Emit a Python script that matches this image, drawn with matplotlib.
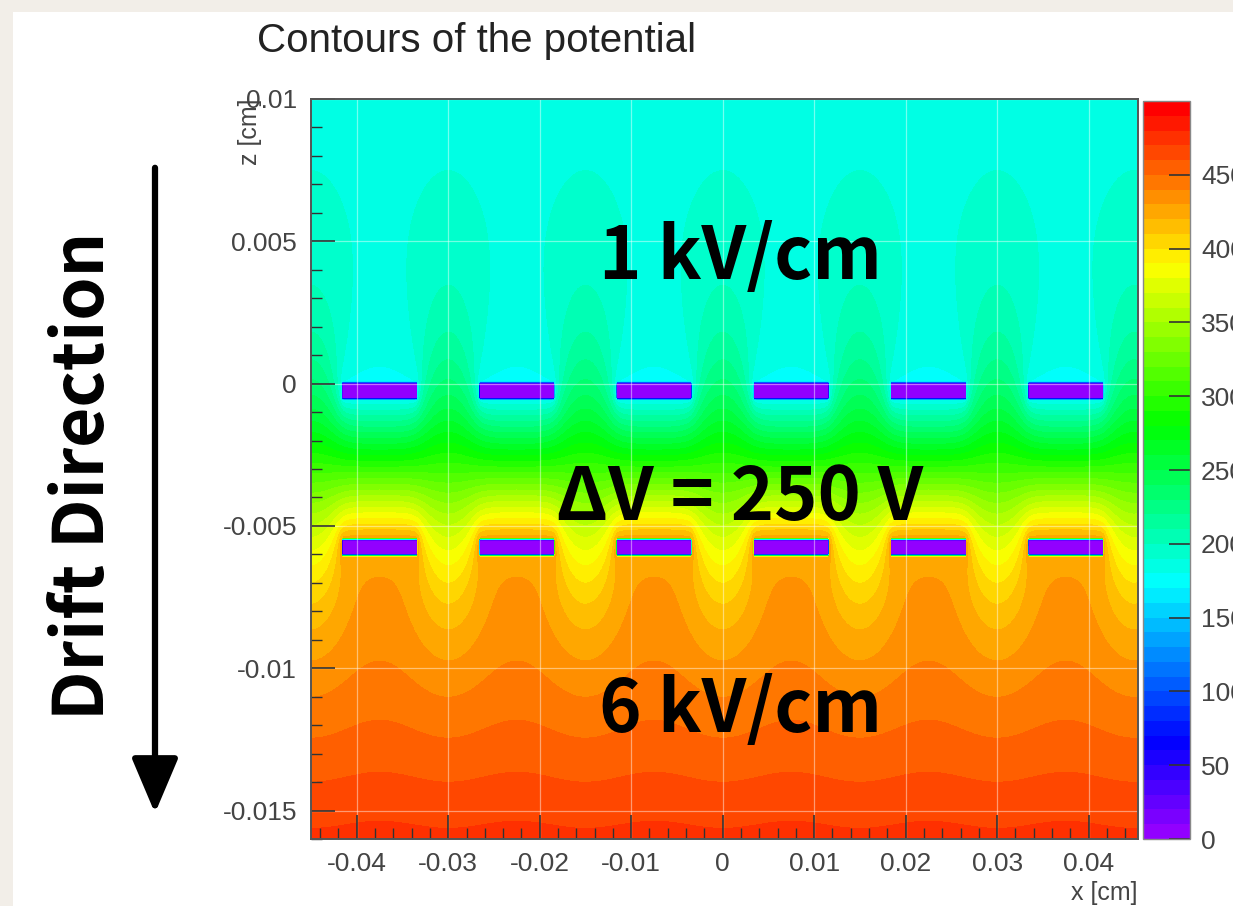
import colorsys
import numpy as np
import matplotlib
matplotlib.use('Agg')
import matplotlib.pyplot as plt
from matplotlib.colors import ListedColormap
from matplotlib.patches import Rectangle, FancyArrowPatch

plt.rcParams['font.family'] = ['Liberation Sans', 'DejaVu Sans']

# double mesh geometry [cm]
strip_centers = [-0.0375, -0.0225, -0.0075, 0.0075, 0.0225, 0.0375]
strip_width = 0.0083
mesh_pitch = 0.015
upper_mesh = (-0.00055, 0.0)      # z range of the upper strips
lower_mesh = (-0.0060, -0.0055)   # z range of the lower strips

# potentials [V] and fields [V/cm]
v_upper = 178.0
delta_v = 250.0
e_drift = 1000.0
e_transfer = 6000.0

x_range = (-0.045, 0.0454)
z_range = (-0.016, 0.010)
x_ticks = [-0.04, -0.03, -0.02, -0.01, 0, 0.01, 0.02, 0.03, 0.04]
z_ticks = [-0.015, -0.01, -0.005, 0, 0.005, 0.01]
cbar_ticks = [0, 50, 100, 150, 200, 250, 300, 350, 400, 450]

# ---- solve Laplace on one mesh period (periodic in x) ----
h = 0.0001
z = np.arange(z_range[0], z_range[1] + h / 2, h)
nper = int(round(mesh_pitch / h))
xp = x_range[0] + np.arange(nper) * h
Z, X = np.meshgrid(z, xp, indexing='ij')

in_strip = np.zeros_like(X, dtype=bool)
for c in strip_centers:
    in_strip |= np.abs(X - c) <= strip_width / 2
up_mask = in_strip & (Z >= upper_mesh[0] - 1e-9) & (Z <= upper_mesh[1] + 1e-9)
lo_mask = in_strip & (Z >= lower_mesh[0] - 1e-9) & (Z <= lower_mesh[1] + 1e-9)
fixed = up_mask | lo_mask
v_lower = v_upper + delta_v

# start from the ideal planar solution
gap = upper_mesh[0] - lower_mesh[1]
V = np.where(Z >= upper_mesh[0], v_upper - e_drift * Z.clip(0),
             v_upper + delta_v * (upper_mesh[0] - Z) / gap)
V = np.where(Z <= lower_mesh[1], v_lower + e_transfer * (lower_mesh[0] - Z).clip(0), V)
V[up_mask] = v_upper
V[lo_mask] = v_lower

parity = (np.arange(len(z))[:, None] + np.arange(nper)[None, :]) % 2
free = ~fixed
free[0, :] = False
free[-1, :] = False
red = free & (parity == 0)
black = free & (parity == 1)
omega = 1.96
for it in range(1500):
    for m in (red, black):
        nb = 0.25 * (np.roll(V, 1, 1) + np.roll(V, -1, 1) + np.roll(V, 1, 0) + np.roll(V, -1, 0))
        V[m] += omega * (nb[m] - V[m])
    V[-1] = V[-2] - e_drift * h
    V[0] = V[1] + e_transfer * h

V_show = V.copy()
V_show[fixed] = 0.0

# tile the period over the full x range
x = np.arange(x_range[0], x_range[1] + h / 2, h)
cols = np.arange(len(x)) % nper
pot = V_show[:, cols]

# ROOT style violet -> red palette
palette = [colorsys.hls_to_rgb((280 - (i + 1) * 280 / 50) / 360, 0.5, 1.0) for i in range(50)]
palette[-1] = (1.0, 0.0, 0.0)
cmap = ListedColormap(palette)
levels = np.linspace(0, 500, 51)

fig = plt.figure(figsize=(12.33, 9.06), dpi=100, facecolor='#f2eee8')
fig.add_artist(Rectangle((13 / 1233, 0), 1, 1 - 12 / 906, transform=fig.transFigure,
                         facecolor='white', edgecolor='none', zorder=0))

ax = fig.add_axes([0.25223, 0.07395, 0.67072, 0.81678])
cs = ax.contourf(x, z, pot, levels=levels, cmap=cmap, vmin=0, vmax=500)
ax.set_xlim(x_range)
ax.set_ylim(z_range)
ax.set_xticks(x_ticks)
ax.set_xticklabels(['-0.04', '-0.03', '-0.02', '-0.01', '0', '0.01', '0.02', '0.03', '0.04'])
ax.set_yticks(z_ticks)
ax.set_yticklabels(['-0.015', '-0.01', '-0.005', '0', '0.005', '0.01'])
ax.set_xticks(np.arange(-0.044, 0.0455, 0.002), minor=True)
ax.set_yticks(np.arange(-0.016, 0.0101, 0.001), minor=True)
ax.tick_params(which='both', direction='in', top=False, right=False, colors='#333333',
               labelsize=19, labelcolor='#444444')
ax.tick_params(which='major', length=17, width=1.2)
ax.tick_params(which='minor', length=8, width=1.0)
ax.tick_params(axis='x', pad=9)
ax.tick_params(axis='y', pad=10)
ax.grid(True, which='major', color='white', alpha=0.45, lw=0.9)
for s in ax.spines.values():
    s.set_color('#555555')
    s.set_linewidth(1.4)

ax.text(1.0, -0.073, 'x [cm]', transform=ax.transAxes, ha='right', va='center',
        fontsize=18, color='#444444')
ax.text(-0.0735, 1.0, 'z [cm]', transform=ax.transAxes, rotation=90, ha='center', va='top',
        fontsize=18, color='#444444')

big = ['Noto Sans CJK KR', 'DejaVu Sans']
ax.text(0.0019, 0.00367, '1 kV/cm', family=big, weight='bold', fontsize=52,
        ha='center', va='baseline', color='black')
ax.text(0.0019, -0.00479, '\u0394V = 250 V', family=big, weight='bold', fontsize=53,
        ha='center', va='baseline', color='black')
ax.text(0.0019, -0.01223, '6 kV/cm', family=big, weight='bold', fontsize=52,
        ha='center', va='baseline', color='black')

cax = fig.add_axes([0.92701, 0.07395, 0.03812, 0.81457])
cb = fig.colorbar(cs, cax=cax, ticks=cbar_ticks)
cb.outline.set_edgecolor('#888888')
cb.outline.set_linewidth(1.0)
cax.tick_params(direction='in', length=15, width=1.2, colors='#333333', labelsize=19,
                labelcolor='#444444', pad=8)

fig.text(257 / 1233, 1 - 52 / 906, 'Contours of the potential', fontsize=29,
         ha='left', va='baseline', color='#222222')

fig.text(84 / 1233, 1 - 476 / 906, 'Drift Direction', family=big, weight='bold',
         fontsize=50, rotation=90, ha='center', va='center', color='black')
fig.add_artist(FancyArrowPatch((155 / 1233, 1 - 165 / 906), (155 / 1233, 1 - 816 / 906),
                               transform=fig.transFigure,
                               arrowstyle='-|>,head_length=1.3,head_width=0.55',
                               mutation_scale=26, lw=4.5, color='black'))

fig.savefig('out.png', dpi=100, facecolor=fig.get_facecolor())
